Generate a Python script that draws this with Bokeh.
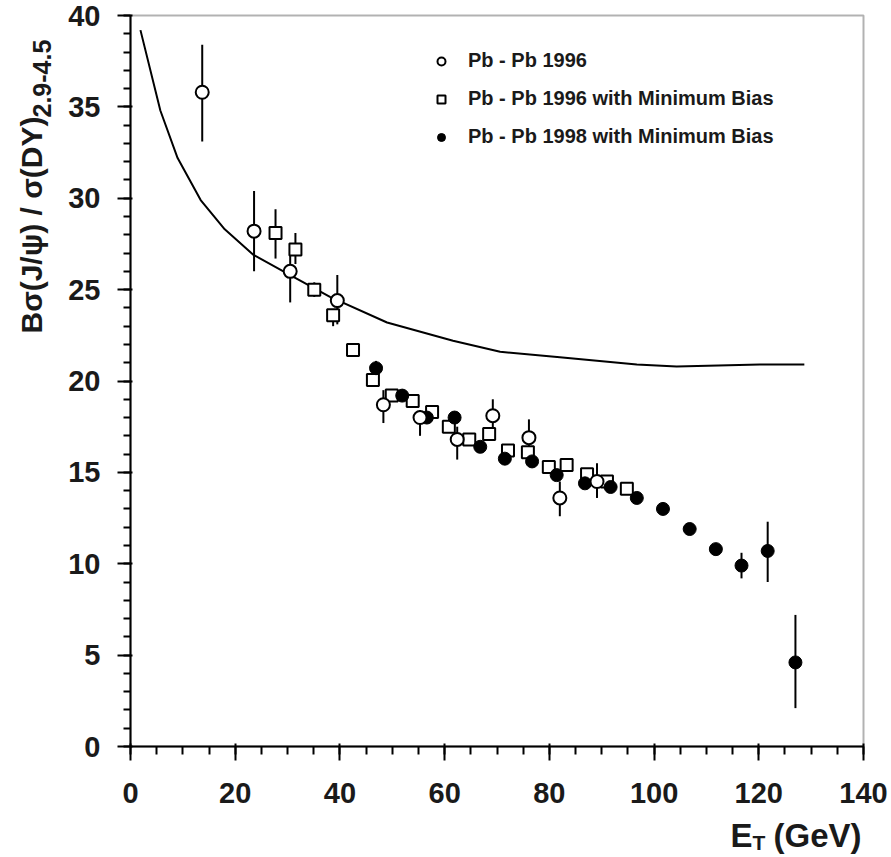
import numpy as np
from bokeh.plotting import figure
from bokeh.models import (Label, Legend, LegendItem, Range1d, FixedTicker, LinearAxis,
                          BoxAnnotation)
from bokeh.embed import file_html
from bokeh.resources import INLINE

# ---------------- data ----------------
# Theoretical curve (normal nuclear absorption)
curve_et = [1.9, 5.7, 9.0, 13.4, 18.0, 23.5, 30.5, 38.1, 49.0, 61.6, 70.6, 82.0, 96.7, 104.3, 120.2, 128.7]
curve_r = [39.2, 34.8, 32.2, 29.9, 28.3, 26.9, 25.8, 24.6, 23.2, 22.2, 21.6, 21.3, 20.9, 20.8, 20.9, 20.9]

# Pb-Pb 1996 (open circles)
c96_et = [13.7, 23.6, 30.5, 39.5, 48.3, 55.3, 62.4, 69.2, 76.1, 82.0, 89.1]
c96_r = [35.8, 28.2, 26.0, 24.4, 18.7, 18.0, 16.8, 18.1, 16.9, 13.6, 14.5]
c96_hi = [38.4, 30.4, 26.9, 25.8, 19.5, 18.4, 17.5, 19.0, 17.9, 14.5, 15.5]
c96_lo = [33.1, 26.0, 24.3, 23.1, 17.7, 17.0, 15.7, 17.3, 16.0, 12.6, 13.6]

# Pb-Pb 1996 with Minimum Bias (open squares)
s96_et = [27.7, 31.5, 35.1, 38.7, 42.5, 46.3, 49.9, 53.9, 57.6, 60.8, 64.7, 68.5, 72.1, 75.9, 79.9, 83.3, 87.2, 91.0, 94.8]
s96_r = [28.1, 27.2, 25.0, 23.6, 21.7, 20.05, 19.2, 18.9, 18.3, 17.5, 16.8, 17.1, 16.2, 16.1, 15.3, 15.4, 14.9, 14.5, 14.1]
s96_hi = [29.4, 28.1, 25.4, 23.6, 21.7, 20.05, 19.2, 18.9, 18.3, 17.5, 16.8, 17.1, 16.2, 16.1, 15.3, 15.4, 14.9, 14.5, 14.1]
s96_lo = [26.7, 26.4, 24.6, 23.0, 21.7, 20.05, 19.2, 18.9, 18.3, 17.5, 16.8, 17.1, 16.2, 16.1, 15.3, 15.4, 14.9, 14.5, 14.1]

# Pb-Pb 1998 with Minimum Bias (filled circles)
f98_et = [46.9, 51.9, 56.6, 61.9, 66.8, 71.5, 76.7, 81.4, 86.8, 91.7, 96.7, 101.7, 106.8, 111.8, 116.7, 121.7, 127.0]
f98_r = [20.7, 19.2, 18.0, 18.0, 16.4, 15.75, 15.6, 14.85, 14.4, 14.2, 13.6, 13.0, 11.9, 10.8, 9.9, 10.7, 4.6]
f98_hi = [21.1, 19.2, 18.0, 18.0, 16.4, 15.75, 15.6, 14.85, 14.4, 14.2, 13.6, 13.0, 11.9, 10.8, 10.6, 12.3, 7.2]
f98_lo = [20.7, 19.2, 18.0, 18.0, 16.4, 15.75, 15.6, 14.85, 14.4, 14.2, 13.6, 13.0, 11.9, 10.8, 9.2, 9.0, 2.1]

legend_labels = ["Pb - Pb 1996", "Pb - Pb 1996 with Minimum Bias", "Pb - Pb 1998 with Minimum Bias"]

x_major = [0, 20, 40, 60, 80, 100, 120, 140]
x_minor = [0, 5, 10, 15, 20, 25, 30, 35, 40, 45, 50, 55, 60, 65, 70, 75, 80, 85, 90, 95,
           100, 105, 110, 115, 120, 125, 130, 135, 140]
y_major = [0, 5, 10, 15, 20, 25, 30, 35, 40]
y_minor = list(range(0, 41))

# ---------------- figure ----------------
FONT = "Liberation Sans"
W, H = 891, 857
FL, FR, FT, FB = 130, 863, 15, 746          # frame box in pixels
sx = (FR - FL) / 140.0
sy = (FB - FT) / 40.0
xr = Range1d(-FL / sx, 140 + (W - FR) / sx)
yr = Range1d(-(H - FB) / sy, 40 + FT / sy)

p = figure(width=W, height=H, output_backend="svg", toolbar_location=None,
           x_range=xr, y_range=yr, x_axis_type=None, y_axis_type=None,
           min_border=0, min_border_left=0, min_border_right=0,
           min_border_top=0, min_border_bottom=0)
p.background_fill_color = "white"
p.border_fill_color = "white"
p.grid.visible = False
p.outline_line_color = None

xaxis = LinearAxis(fixed_location=0, bounds=(0, 140),
                   ticker=FixedTicker(ticks=x_major, minor_ticks=x_minor))
yaxis = LinearAxis(fixed_location=0, bounds=(0, 40),
                   ticker=FixedTicker(ticks=y_major, minor_ticks=y_minor))
p.add_layout(xaxis, "below")
p.add_layout(yaxis, "left")

for ax in (xaxis, yaxis):
    ax.axis_line_width = 2
    ax.major_tick_line_width = 2
    ax.minor_tick_line_width = 2
    ax.major_label_text_font = FONT
    ax.major_label_text_font_style = "bold"
    ax.major_label_text_font_size = "29px"
    ax.major_label_text_color = "#1a1a1a"

xaxis.major_tick_out = 14
xaxis.major_tick_in = 3
xaxis.minor_tick_out = 8
xaxis.minor_tick_in = 0
yaxis.major_tick_out = 13
yaxis.major_tick_in = 2
yaxis.minor_tick_out = 7
yaxis.minor_tick_in = 0
xaxis.major_label_standoff = 22
yaxis.major_label_standoff = 17

# frame box
p.add_layout(BoxAnnotation(left=0, right=140, bottom=0, top=40, fill_alpha=0,
                           line_color="black", line_width=2))

# curve
p.line(curve_et, curve_r, line_color="black", line_width=2)

# error bars
p.segment(x0=c96_et, y0=c96_lo, x1=c96_et, y1=c96_hi, line_color="black", line_width=2)
p.segment(x0=s96_et, y0=s96_lo, x1=s96_et, y1=s96_hi, line_color="black", line_width=2)
p.segment(x0=f98_et, y0=f98_lo, x1=f98_et, y1=f98_hi, line_color="black", line_width=2)

r_sq = p.scatter(s96_et, s96_r, marker="square", size=12, fill_color="white",
                 line_color="black", line_width=2)
r_f = p.scatter(f98_et, f98_r, marker="circle", size=13, fill_color="black",
                line_color="black", line_width=1)
r_c = p.scatter(c96_et, c96_r, marker="circle", size=13, fill_color="white",
                line_color="black", line_width=2)

legend = Legend(items=[LegendItem(label=legend_labels[0], renderers=[r_c]),
                       LegendItem(label=legend_labels[1], renderers=[r_sq]),
                       LegendItem(label=legend_labels[2], renderers=[r_f])],
                location=(431, H - 148), border_line_color=None, background_fill_alpha=0,
                label_text_font=FONT, label_text_font_style="bold", label_text_color="#1a1a1a",
                label_text_font_size="20px", glyph_width=20, glyph_height=20,
                label_height=20, label_standoff=17, spacing=15, padding=0, margin=0)
p.add_layout(legend)

# axis titles (text pieces so the subscripts can be drawn)
lab_kw = dict(text_font=FONT, text_font_style="bold", text_color="#1a1a1a")
p.add_layout(Label(x=(31 - FL) / sx, y=(FB - 333) / sy, text="Bσ(J/ψ) / σ(DY)", angle=np.pi / 2,
                   text_align="left", text_baseline="middle", text_font_size="30px", **lab_kw))
p.add_layout(Label(x=(41 - FL) / sx, y=(FB - 117) / sy, text="2.9-4.5", angle=np.pi / 2,
                   text_align="left", text_baseline="middle", text_font_size="25px", **lab_kw))
p.add_layout(Label(x=(730 - FL) / sx, y=-(835 - FB) / sy, text="E", text_align="left",
                   text_baseline="alphabetic", text_font_size="33px", **lab_kw))
p.add_layout(Label(x=(752 - FL) / sx, y=-(842 - FB) / sy, text="T", text_align="left",
                   text_baseline="alphabetic", text_font_size="21px", **lab_kw))
p.add_layout(Label(x=(861 - FL) / sx, y=-(835 - FB) / sy, text="(GeV)", text_align="right",
                   text_baseline="alphabetic", text_font_size="33px", **lab_kw))

open("out.html", "w").write(file_html(p, INLINE))
